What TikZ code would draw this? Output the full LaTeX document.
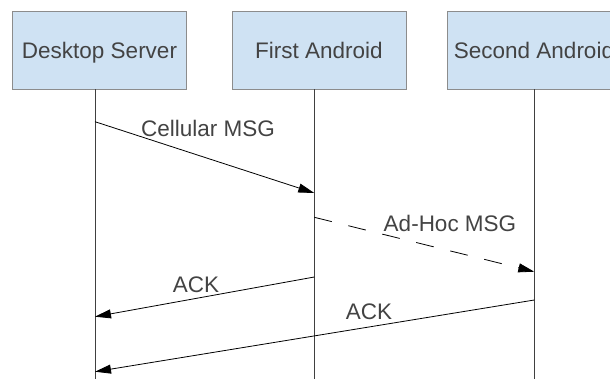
\documentclass[tikz,border=0pt]{standalone}
\usepackage{fontspec}
\setmainfont{Liberation Sans}
\usetikzlibrary{arrows.meta}
\definecolor{boxfill}{HTML}{CFE2F3}
\definecolor{boxdraw}{HTML}{8C8C8C}
\definecolor{txt}{HTML}{434343}
\definecolor{life}{HTML}{404040}
\begin{document}
\begin{tikzpicture}[x=1pt,y=-1pt,
  actor/.style={draw=boxdraw,fill=boxfill,line width=0.9pt,minimum width=174pt,minimum height=78pt,text=txt,font=\fontsize{22.5}{27}\selectfont,inner sep=0pt,text height=16pt,text depth=-1pt},
  lifeline/.style={draw=life,line width=0.9pt},
  msg/.style={draw=black,line width=0.8pt,-{Triangle[length=16pt,width=9pt]}},
  lbl/.style={text=txt,font=\fontsize{22.5}{27}\selectfont,inner sep=0pt}]
\useasboundingbox (0,0) rectangle (610,378);
\clip (0,0) rectangle (610,378);
\node[actor] (ds) at (99.5,50) {Desktop Server};
\node[actor] (fa) at (319,50) {First Android};
\node[actor] (sa) at (534,50) {Second Android};
\coordinate (dstop) at ([xshift=-4.5pt]ds.south);
\coordinate (fatop) at ([xshift=-4.7pt]fa.south);
\coordinate (satop) at ([xshift=0.3pt]sa.south);
\coordinate (dsend) at (dstop |- 0,380);
\coordinate (faend) at (fatop |- 0,380);
\coordinate (saend) at (satop |- 0,380);
\draw[lifeline] (dstop) -- (dsend);
\draw[lifeline] (fatop) -- (faend);
\draw[lifeline] (satop) -- (saend);
\coordinate (m1s) at (dstop |- 0,121.7);
\coordinate (m1e) at (fatop |- 0,193);
\coordinate (m2s) at (fatop |- 0,217.3);
\coordinate (m2e) at (satop |- 0,271.7);
\coordinate (m3s) at (fatop |- 0,277);
\coordinate (m3e) at (dstop |- 0,316.7);
\coordinate (m4s) at (satop |- 0,300);
\coordinate (m4e) at (dstop |- 0,371.7);
\draw[msg] (m1s) -- (m1e);
\draw[msg,dash pattern=on 18pt off 17pt] (m2s) -- (m2e);
\draw[msg] (m3s) -- (m3e);
\draw[msg] (m4s) -- (m4e);
\node[lbl,anchor=base] (l1) at (208,136.7) {Cellular MSG};
\node[lbl,anchor=base] (l2) at (450,231.7) {Ad-Hoc MSG};
\node[lbl,anchor=base] (l3) at (196,292.7) {ACK};
\node[lbl,anchor=base] (l4) at (369,319.3) {ACK};
\end{tikzpicture}
\end{document}
